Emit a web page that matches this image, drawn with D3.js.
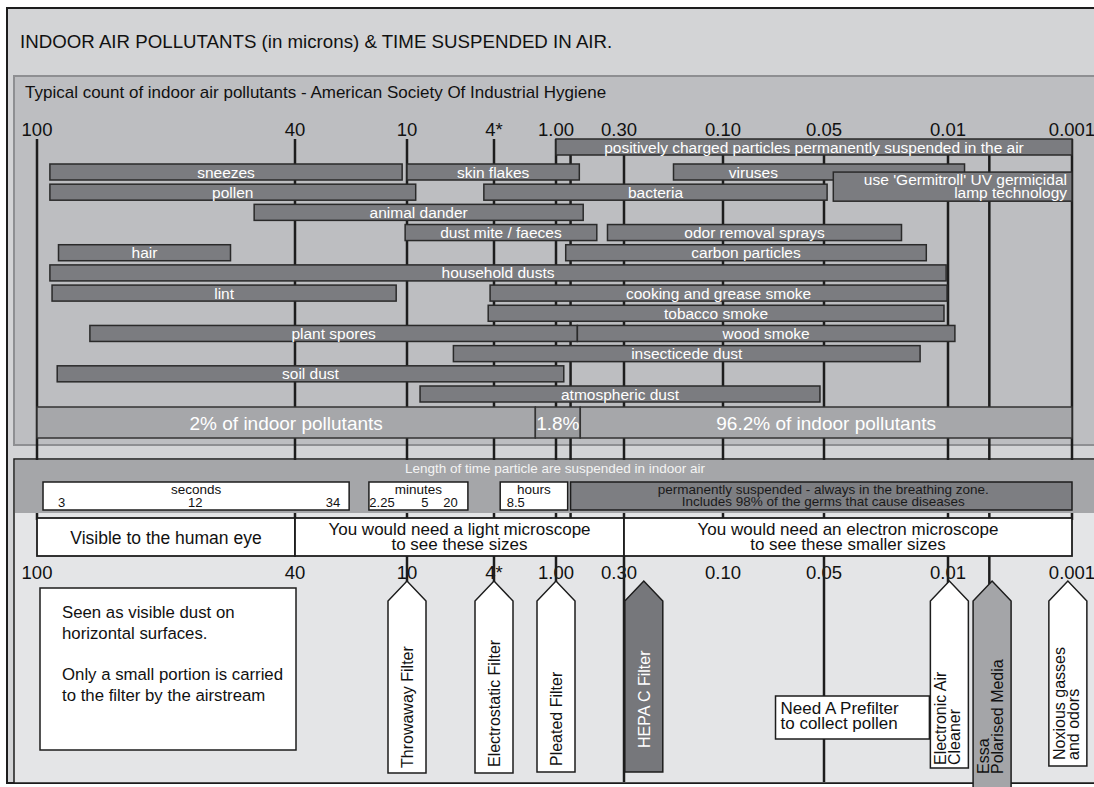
<!DOCTYPE html>
<html>
<head>
<meta charset="utf-8">
<script src="https://cdn.jsdelivr.net/npm/d3@7"></script>
<style>
  html, body { margin: 0; padding: 0; background: #fff; }
  svg { display: block; font-family: "Liberation Sans", Arial, Helvetica, sans-serif; }
</style>
</head>
<body>
<div id="chart"></div>
<script>
// particle size axis (microns)
const sizeTicks = [100, 40, 10, 4, 1, 0.3, 0.1, 0.05, 0.01, 0.001];
const tickLabels = ["100", "40", "10", "4*", "1.00", "0.30", "0.10", "0.05", "0.01", "0.001"];
const extraLines = [0.85, 0.007];

// pollutants and their size ranges
const pollutants = ["positively charged particles permanently suspended in the air", "sneezes", "skin flakes", "viruses",
  "pollen", "bacteria", "animal dander", "dust mite / faeces", "odor removal sprays", "hair", "carbon particles",
  "household dusts", "lint", "cooking and grease smoke", "tobacco smoke", "plant spores", "wood smoke",
  "insecticede dust", "soil dust", "atmospheric dust"];
const sizeFrom = [1.0, 97, 10, 0.2, 97, 4.7, 49.5, 10.5, 0.47, 95, 0.9, 97, 96.5, 4.27, 4.4, 87.7, 0.78, 6.8, 95.3, 9.1];
const sizeTo = [0.001, 11.3, 0.76, 0.0088, 9.4, 0.049, 0.72, 0.58, 0.025, 55, 0.017, 0.0106, 12.9, 0.0103, 0.0113, 0.78, 0.0095, 0.019, 0.92, 0.052];
const rowOf = [0, 1, 1, 1, 2, 2, 3, 4, 4, 5, 5, 6, 7, 7, 8, 9, 9, 10, 11, 12];

const germNote = ["use 'Germitroll' UV germicidal", "lamp technology"];
const germRange = [0.047, 0.001];

// share of indoor pollutants
const shareLabels = ["2% of indoor pollutants", "1.8%", "96.2% of indoor pollutants"];
const shareBounds = [100, 2.0, 0.75, 0.001];

// time suspended
const timeUnits = ["seconds", "minutes", "hours"];
const timeFrom = [98.6, 20.2, 3.7];
const timeTo = [25.5, 5.8, 0.88];
const timeTicks = [["3", "12", "34"], ["2.25", "5", "20"], ["8.5"]];
const timeTickAt = [[94.3, 63.2, 29.8], [16.7, 8.76, 7.0], [2.95]];
const permText = ["permanently suspended - always in the breathing zone.", "Includes 98% of the germs that cause diseases"];
const permRange = [0.85, 0.001];

// visibility zones
const zoneText = [["Visible to the human eye"], ["You would need a light microscope", "to see these sizes"],
  ["You would need an electron microscope", "to see these smaller sizes"]];
const zoneBounds = [100, 40, 0.3, 0.001];

// filters
const filterNames = [["Throwaway Filter"], ["Electrostatic Filter"], ["Pleated Filter"], ["HEPA C Filter"],
  ["Electronic Air", "Cleaner"], ["Essa", "Polarised Media"], ["Noxious gasses", "and odors"]];
const filterSizes = [10, 4, 1.0, 0.26, 0.0099, 0.0068, 0.0013];
const filterKind = ["plain", "plain", "plain", "hepa", "plain", "essa", "plain"];
const fullLines = [0.3, 0.05];
const shortLines = [10, 4, 1, 0.01, 0.007];

const dustNote = ["Seen as visible dust on", "horizontal surfaces.", "", "Only a small portion is carried", "to the filter by the airstream"];
const prefilterNote = ["Need A Prefilter", "to collect pollen"];
const prefilterRange = [0.074, 0.016];

// ---- layout ----
const W = 1094, H = 787;
const ink = "#1d1d1d";
const filterBottom = [773, 773, 772, 772, 768, 788, 766];
const filterTextPad = [5, 6, 6, 24, 3, 14, 6];

const x = d3.scaleLinear().domain(sizeTicks).range([37, 295, 407, 494, 556, 624, 723, 824, 948, 1072]);
const rowY = d3.scaleLinear().domain([0, 1, 12]).range([139, 164, 386]);
const barH = 16;

const svg = d3.select("#chart").append("svg").attr("width", W).attr("height", H);

// frames
svg.append("rect").attr("x", 7).attr("y", 8).attr("width", 1110).attr("height", 775)
  .attr("fill", "#d3d4d6").attr("stroke", ink).attr("stroke-width", 2);
svg.append("text").attr("x", 20).attr("y", 48).attr("font-size", 18.7).attr("fill", "#111")
  .text("INDOOR AIR POLLUTANTS (in microns) & TIME SUSPENDED IN AIR.");

svg.append("rect").attr("x", 14).attr("y", 76).attr("width", 1100).attr("height", 369)
  .attr("fill", "#bdbec1").attr("stroke", "#8e8f92").attr("stroke-width", 2);
svg.append("text").attr("x", 25).attr("y", 98).attr("font-size", 17).attr("fill", "#111")
  .text("Typical count of indoor air pollutants - American Society Of Industrial Hygiene");

svg.append("rect").attr("x", 14).attr("y", 459).attr("width", 1100).attr("height", 324)
  .attr("fill", "#e4e5e7").attr("stroke", ink).attr("stroke-width", 1.5);

// grid lines
svg.append("g").selectAll("line").data(sizeTicks.concat(extraLines)).join("line")
  .attr("x1", d => x(d)).attr("x2", d => x(d)).attr("y1", 139).attr("y2", 520)
  .attr("stroke", ink).attr("stroke-width", 2.5);

svg.append("g").selectAll("text").data(sizeTicks).join("text")
  .attr("x", d => x(d) - (d === 0.3 ? 5 : 0)).attr("y", 136).attr("text-anchor", "middle")
  .attr("font-size", 18.5).attr("fill", "#111")
  .text((d, i) => tickLabels[i]);

// pollutant bars
const bars = svg.append("g").selectAll("g").data(pollutants).join("g");
bars.append("rect")
  .attr("x", (d, i) => x(sizeFrom[i])).attr("y", (d, i) => rowY(rowOf[i]))
  .attr("width", (d, i) => x(sizeTo[i]) - x(sizeFrom[i])).attr("height", barH)
  .attr("fill", "#7b7c80").attr("stroke", "#2a2a2a").attr("stroke-width", 1.5);

const gx0 = x(germRange[0]), gx1 = x(germRange[1]);
bars.append("text")
  .attr("x", (d, i) => {
    let a = x(sizeFrom[i]), b = x(sizeTo[i]);
    if ((rowOf[i] === 1 || rowOf[i] === 2) && b > gx0 && a < gx0) b = gx0;
    return (a + b) / 2;
  })
  .attr("y", (d, i) => rowY(rowOf[i]) + barH / 2).attr("dy", "0.36em")
  .attr("text-anchor", "middle").attr("font-size", 15.5).attr("fill", "#fff")
  .text(d => d);

// germitroll note
const gy0 = rowY(1.4), gy1 = rowY(2) + 17;
svg.append("rect").attr("x", gx0).attr("y", gy0).attr("width", gx1 - gx0).attr("height", gy1 - gy0)
  .attr("fill", "#7b7c80").attr("stroke", "#2a2a2a").attr("stroke-width", 1.5);
svg.append("g").selectAll("text").data(germNote).join("text")
  .attr("x", gx1 - 5).attr("y", (d, i) => gy0 + 13 + i * 12.5).attr("text-anchor", "end")
  .attr("font-size", 15.5).attr("fill", "#fff").text(d => d);

// share bars
const shares = svg.append("g").selectAll("g").data(shareLabels).join("g");
shares.append("rect")
  .attr("x", (d, i) => x(shareBounds[i])).attr("y", 407)
  .attr("width", (d, i) => x(shareBounds[i + 1]) - x(shareBounds[i])).attr("height", 31)
  .attr("fill", (d, i) => i === 1 ? "#9a9b9e" : "#a6a7aa").attr("stroke", "#333").attr("stroke-width", 1.5);
shares.append("text")
  .attr("x", (d, i) => (x(shareBounds[i]) + x(shareBounds[i + 1])) / 2).attr("y", 423).attr("dy", "0.36em")
  .attr("text-anchor", "middle").attr("font-size", 19).attr("fill", "#fff").text(d => d);

// time band
svg.append("rect").attr("x", 15).attr("y", 460).attr("width", 1100).attr("height", 53).attr("fill", "#a5a6a9");
svg.append("text").attr("x", 555).attr("y", 473).attr("text-anchor", "middle").attr("font-size", 13.5)
  .attr("fill", "#f4f4f4").text("Length of time particle are suspended in indoor air");

const tb = svg.append("g").selectAll("g").data(timeUnits).join("g");
tb.append("rect").attr("x", (d, i) => x(timeFrom[i])).attr("y", 482)
  .attr("width", (d, i) => x(timeTo[i]) - x(timeFrom[i])).attr("height", 28)
  .attr("fill", "#fff").attr("stroke", ink).attr("stroke-width", 1.5);
tb.append("text").attr("x", (d, i) => (x(timeFrom[i]) + x(timeTo[i])) / 2).attr("y", 494)
  .attr("text-anchor", "middle").attr("font-size", 13.5).attr("fill", "#111").text(d => d);
tb.each(function (d, i) {
  d3.select(this).selectAll("text.tick").data(timeTicks[i]).join("text").attr("class", "tick")
    .attr("x", (t, j) => x(timeTickAt[i][j])).attr("y", 507).attr("text-anchor", "middle")
    .attr("font-size", 13).attr("fill", "#111").text(t => t);
});

svg.append("rect").attr("x", x(permRange[0])).attr("y", 482).attr("width", x(permRange[1]) - x(permRange[0]))
  .attr("height", 28).attr("fill", "#7d7e82").attr("stroke", ink).attr("stroke-width", 1.5);
svg.append("g").selectAll("text").data(permText).join("text")
  .attr("x", (x(permRange[0]) + x(permRange[1])) / 2 + 2).attr("y", (d, i) => 494 + i * 12)
  .attr("text-anchor", "middle").attr("font-size", 13.5).attr("fill", "#1a1a1a").text(d => d);

// visibility zones
const zones = svg.append("g").selectAll("g").data(zoneText).join("g");
zones.append("rect").attr("x", (d, i) => x(zoneBounds[i])).attr("y", 518)
  .attr("width", (d, i) => x(zoneBounds[i + 1]) - x(zoneBounds[i])).attr("height", 38)
  .attr("fill", "#fff").attr("stroke", ink).attr("stroke-width", 1.8);
zones.each(function (d, i) {
  const cx = (x(zoneBounds[i]) + x(zoneBounds[i + 1])) / 2;
  d3.select(this).selectAll("text").data(d).join("text")
    .attr("x", cx).attr("y", (t, j) => d.length === 1 ? 544 : 535 + j * 15)
    .attr("text-anchor", "middle").attr("font-size", d.length === 1 ? 17.5 : 17).attr("fill", "#111").text(t => t);
});

// bottom axis labels
svg.append("g").selectAll("text").data(sizeTicks).join("text")
  .attr("x", d => x(d) - (d === 0.3 ? 5 : 0)).attr("y", 579).attr("text-anchor", "middle")
  .attr("font-size", 18.5).attr("fill", "#111")
  .text((d, i) => tickLabels[i]);

svg.append("g").selectAll("line").data(fullLines).join("line")
  .attr("x1", d => x(d)).attr("x2", d => x(d)).attr("y1", 556).attr("y2", 782)
  .attr("stroke", ink).attr("stroke-width", 2.5);
svg.append("g").selectAll("line").data(shortLines).join("line")
  .attr("x1", d => x(d)).attr("x2", d => x(d)).attr("y1", 556).attr("y2", 584)
  .attr("stroke", ink).attr("stroke-width", 2.5);

// notes
svg.append("rect").attr("x", 40).attr("y", 588).attr("width", 256).attr("height", 162)
  .attr("fill", "#fff").attr("stroke", ink).attr("stroke-width", 1.5);
svg.append("g").selectAll("text").data(dustNote).join("text")
  .attr("x", 62).attr("y", (d, i) => 618 + i * 20.8).attr("font-size", 16.8).attr("fill", "#111").text(d => d);

const px0 = x(prefilterRange[0]), px1 = x(prefilterRange[1]);
svg.append("rect").attr("x", px0).attr("y", 696).attr("width", px1 - px0).attr("height", 43)
  .attr("fill", "#fff").attr("stroke", ink).attr("stroke-width", 1.5);
svg.append("g").selectAll("text").data(prefilterNote).join("text")
  .attr("x", px0 + 5).attr("y", (d, i) => 714 + i * 14.5).attr("font-size", 17).attr("fill", "#111").text(d => d);

// filter arrows
const arrows = svg.append("g").selectAll("g").data(filterNames).join("g");
arrows.append("path")
  .attr("d", (d, i) => {
    const cx = x(filterSizes[i]), hw = 19, tip = 581, sh = 601, bot = filterBottom[i];
    return `M${cx - hw},${bot}L${cx - hw},${sh}L${cx},${tip}L${cx + hw},${sh}L${cx + hw},${bot}Z`;
  })
  .attr("fill", (d, i) => filterKind[i] === "hepa" ? "#76777b" : filterKind[i] === "essa" ? "#a4a5a8" : "#fff")
  .attr("stroke", ink).attr("stroke-width", 1.5);
arrows.each(function (d, i) {
  const cx = x(filterSizes[i]), y0 = filterBottom[i] - filterTextPad[i];
  d3.select(this).selectAll("text").data(d).join("text")
    .attr("transform", (t, j) => {
      const bx = d.length === 1 ? cx + 6 : cx - 3 + j * 14;
      return `translate(${bx},${y0}) rotate(-90)`;
    })
    .attr("font-size", 16).attr("fill", filterKind[i] === "hepa" ? "#fff" : "#111").text(t => t);
});
</script>
</body>
</html>
